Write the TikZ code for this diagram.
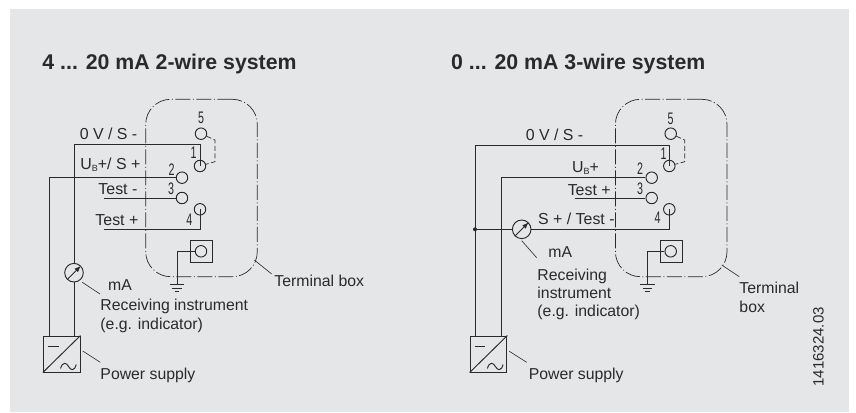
\documentclass[tikz,border=0pt]{standalone}
\usepackage{fontspec}
\usetikzlibrary{arrows.meta}
\setmainfont{Liberation Sans}
\definecolor{panel}{HTML}{E5E6E8}
\definecolor{ink}{HTML}{2A2A2C}
\newcommand{\fs}[1]{\fontsize{#1}{#1}\selectfont}
\newcommand{\ub}{U\raisebox{-.3ex}{\fs{9}B}}
% earth symbol below a named coordinate
\newcommand{\earth}[1]{
  \draw ([xshift=-7.3pt]#1) -- ([xshift=7.3pt]#1);
  \draw ([xshift=-4.7pt,yshift=-3.8pt]#1) -- ([xshift=4.7pt,yshift=-3.8pt]#1);
  \draw ([xshift=-2.4pt,yshift=-7.6pt]#1) -- ([xshift=2.4pt,yshift=-7.6pt]#1);
}
% signs inside a power supply box
\newcommand{\acdc}[1]{
  \draw (#1.south west) -- (#1.north east);
  \draw ([xshift=5pt,yshift=26pt]#1.south west) -- ([xshift=15.7pt,yshift=26pt]#1.south west);
  \draw[shift={(#1.south west)}] (17.7,-4) .. controls (19.7,-11) and (23.7,-10) .. (25.7,-6)
     .. controls (27.7,-2) and (31.7,-1) .. (33.4,-8);
}
\tikzset{
  terminal/.style={draw,circle,inner sep=0pt,minimum size=11.5pt},
  termbox/.style={draw,rounded corners=25pt,minimum width=111.6pt,minimum height=177.4pt,
    dash pattern=on 15pt off 2.5pt on 1pt off 2.5pt},
  earthbox/.style={draw,minimum size=22pt,inner sep=0pt},
  supply/.style={draw,minimum width=36.7pt,minimum height=36pt,inner sep=0pt},
  meter/.style={draw,circle,inner sep=0pt,minimum size=18.6pt},
  junction/.style={fill,circle,inner sep=0pt,minimum size=4pt},
  needle/.style={-{Latex[length=6.5pt,width=5pt]}},
  link/.style={dash pattern=on 5pt off 2.5pt,line width=.7pt},
  txt/.style={anchor=base west,inner sep=0pt,font=\fs{15.9}},
  lead/.style={anchor=base west,inner sep=0pt,font=\fs{15.8}},
  num/.style={inner sep=0pt,font=\fs{16.7},xscale=.64},
  title/.style={anchor=base west,inner sep=0pt,font=\bfseries\fs{21.3}}
}
\begin{document}
\begin{tikzpicture}[x=1pt,y=-1pt,color=ink,line width=.95pt,text=ink]
\useasboundingbox (0,0) rectangle (856,412);
\fill[panel] (10,9.3) rectangle (849,411.5);

% 2-wire system
\node[title] (head1) at (42,69.3) {4 ... 20 mA 2-wire system};
\node[termbox,line width=.7pt] (box1) at (201.5,188) {};
\node[terminal] (a5) at (201,133.7) {};
\node[terminal] (a1) at (200,166) {};
\node[terminal] (a2) at (182,177.7) {};
\node[terminal] (a3) at (182,198) {};
\node[terminal] (a4) at (200,209.3) {};
\node[earthbox] (ea) at (201.3,251.3) {};
\node[terminal] (ae) at (201,251.3) {};
\node[meter] (m1) at (74,272.7) {};
\node[supply] (ps1) at (61.65,354) {};
\node[num] (na5) at (201,118) {5};
\node[num] (na1) at (193.7,152.7) {1};
\node[num] (na2) at (171.7,169.3) {2};
\node[num] (na3) at (171,188.7) {3};
\node[num] (na4) at (189.3,220) {4};
\node[txt] (la0) at (79.3,139) {0 V / S -};
\node[txt] (la1) at (80,169) {\ub+/ S +};
\node[txt] (la2) at (98,194) {Test -};
\node[txt] (la3) at (95,225) {Test +};
\node[lead] (ma1) at (107.7,290) {mA};
\node[lead] (ri1) at (100,310) {Receiving instrument};
\node[lead] (ri1b) at (100,329) {(e.g. indicator)};
\node[lead] (tb1) at (274,286) {Terminal box};
\node[lead] (pw1) at (100,379) {Power supply};
\coordinate (c0) at (74,144.3);
\coordinate (c2) at (49,336);
\coordinate (c3) at (104,198);
\coordinate (c4) at (104,229.3);
\coordinate (g1) at (177,284.3);
\coordinate (d1) at (215,140);
\coordinate (d2) at (215,161.7);
\draw (a1.center) |- (c0) -- (m1);
\draw (m1) -- (m1 |- ps1.north);
\draw (a2) -| (c2);
\draw (c3) -- (a3);
\draw (c4) -| (a4.center);
\draw (ae) -| (g1);
\earth{g1}
\draw[link] (a5) -- (d1) -- (d2) -- (a1);
\draw[needle] (m1.south west) -- (m1.north east);
\acdc{ps1}
\draw[line width=.6pt] (82.3,282.3) -- (100,294);
\draw[line width=.6pt] (82.7,351) -- (100.3,362.3);
\draw[line width=.6pt] (254.3,260) -- (271.7,274);

% 3-wire system
\node[title] (head2) at (450.7,69.3) {0 ... 20 mA 3-wire system};
\node[termbox,line width=.7pt] (box2) at (671.2,188) {};
\node[terminal] (b5) at (670.7,133.7) {};
\node[terminal] (b1) at (669.3,166) {};
\node[terminal] (b2) at (651.7,177.7) {};
\node[terminal] (b3) at (651.7,198) {};
\node[terminal] (b4) at (669.3,209.3) {};
\node[earthbox] (eb) at (671,251.3) {};
\node[terminal] (be) at (670.7,251.3) {};
\node[meter] (m2) at (521.7,229.3) {};
\node[junction] (dot) at (475,229.3) {};
\node[supply] (ps2) at (488.5,354) {};
\node[num] (nb5) at (670.7,119) {5};
\node[num] (nb1) at (663.7,153.3) {1};
\node[num] (nb2) at (640,168.3) {2};
\node[num] (nb3) at (640,189) {3};
\node[num] (nb4) at (657.7,217.7) {4};
\node[txt] (lb0) at (525.3,140) {0 V / S -};
\node[txt] (lb1) at (571.7,172.3) {\ub+};
\node[txt] (lb2) at (567.3,195) {Test +};
\node[txt] (lb3) at (537.7,224) {S + / Test -};
\node[lead] (ma2) at (548,257.7) {mA};
\node[lead] (ri2) at (537,280) {Receiving};
\node[lead] (ri2b) at (537,298.7) {instrument};
\node[lead] (ri2c) at (537,316) {(e.g. indicator)};
\node[lead] (tb2) at (739,293.3) {Terminal};
\node[lead] (tb2b) at (739,312) {box};
\node[lead] (pw2) at (528.3,379) {Power supply};
\node[inner sep=0pt,font=\fs{15},rotate=90,anchor=base west] (code) at (823.5,387) {1416324.03};
\coordinate (e0) at (475,145.7);
\coordinate (e2) at (501.7,336);
\coordinate (e3) at (575,198);
\coordinate (g2) at (647.3,284.3);
\coordinate (f1) at (684.7,140);
\coordinate (f2) at (684.7,161.7);
\draw (b1.center) |- (e0) -- (e0 |- ps2.north);
\draw (b2) -| (e2);
\draw (e3) -- (b3);
\draw (b4.center) |- (m2);
\draw (m2) -- (dot);
\draw (be) -| (g2);
\earth{g2}
\draw[link] (b5) -- (f1) -- (f2) -- (b1);
\draw[needle] (m2.south west) -- (m2.north east);
\acdc{ps2}
\draw[line width=.6pt] (521.7,240.7) -- (536.7,257.7);
\draw[line width=.6pt] (509.3,351.3) -- (526.7,362.3);
\draw[line width=.6pt] (721.7,265) -- (739.3,276.7);
\end{tikzpicture}
\end{document}
